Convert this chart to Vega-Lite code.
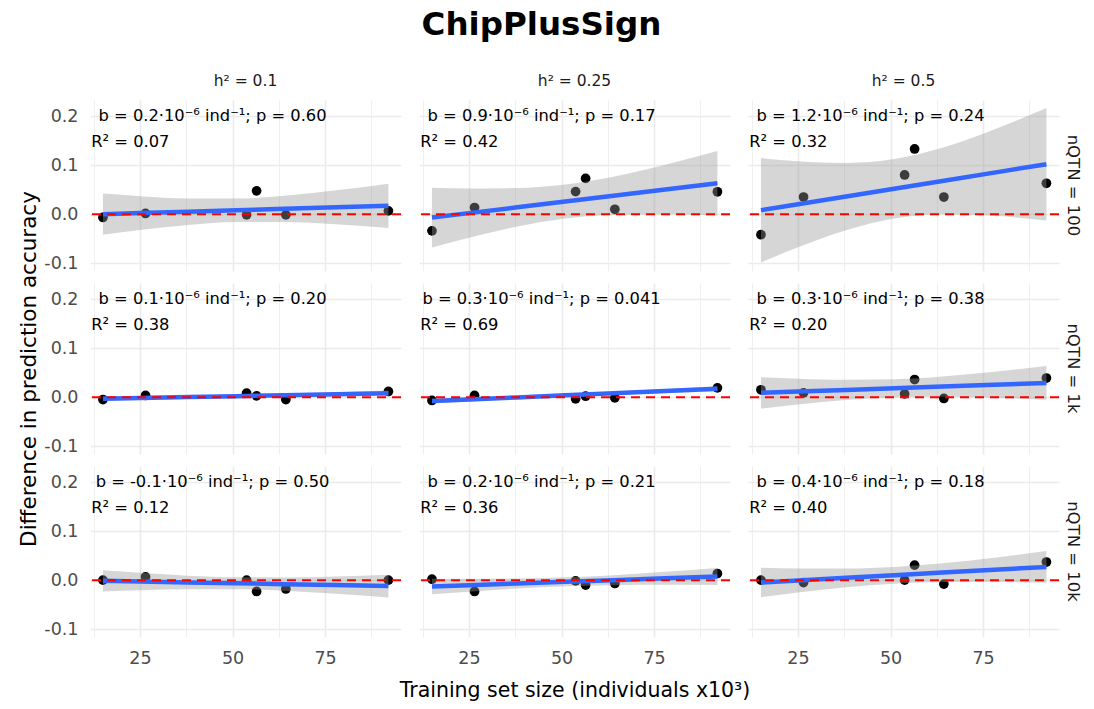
{
  "$schema": "https://vega.github.io/schema/vega-lite/v6.json",
  "padding": {"left": 18, "top": 9, "right": 2, "bottom": 2},
  "background": "white",
  "title": {"text": "ChipPlusSign", "fontSize": 32.5, "fontWeight": "bold", "font": "DejaVu Sans", "color": "#000000", "anchor": "middle", "offset": 32, "dx": -8},
  "data": {"values": [
    {"h":"h² = 0.1","q":"nQTN = 100","k":"p","x":15,"y":-0.0068},
    {"h":"h² = 0.1","q":"nQTN = 100","k":"p","x":26.5,"y":0.0014},
    {"h":"h² = 0.1","q":"nQTN = 100","k":"p","x":53.8,"y":-0.0014},
    {"h":"h² = 0.1","q":"nQTN = 100","k":"p","x":56.5,"y":0.0476},
    {"h":"h² = 0.1","q":"nQTN = 100","k":"p","x":64.4,"y":-0.0014},
    {"h":"h² = 0.1","q":"nQTN = 100","k":"p","x":92.1,"y":0.0068},
    {"h":"h² = 0.25","q":"nQTN = 100","k":"p","x":15,"y":-0.034},
    {"h":"h² = 0.25","q":"nQTN = 100","k":"p","x":26.5,"y":0.0136},
    {"h":"h² = 0.25","q":"nQTN = 100","k":"p","x":53.8,"y":0.046},
    {"h":"h² = 0.25","q":"nQTN = 100","k":"p","x":56.5,"y":0.073},
    {"h":"h² = 0.25","q":"nQTN = 100","k":"p","x":64.4,"y":0.010},
    {"h":"h² = 0.25","q":"nQTN = 100","k":"p","x":92.1,"y":0.0456},
    {"h":"h² = 0.5","q":"nQTN = 100","k":"p","x":15,"y":-0.042},
    {"h":"h² = 0.5","q":"nQTN = 100","k":"p","x":26.5,"y":0.035},
    {"h":"h² = 0.5","q":"nQTN = 100","k":"p","x":53.8,"y":0.080},
    {"h":"h² = 0.5","q":"nQTN = 100","k":"p","x":56.5,"y":0.133},
    {"h":"h² = 0.5","q":"nQTN = 100","k":"p","x":64.4,"y":0.035},
    {"h":"h² = 0.5","q":"nQTN = 100","k":"p","x":92.1,"y":0.063},
    {"h":"h² = 0.1","q":"nQTN = 1k","k":"p","x":15,"y":-0.0048},
    {"h":"h² = 0.1","q":"nQTN = 1k","k":"p","x":26.5,"y":0.0034},
    {"h":"h² = 0.1","q":"nQTN = 1k","k":"p","x":53.8,"y":0.0082},
    {"h":"h² = 0.1","q":"nQTN = 1k","k":"p","x":56.5,"y":0.0027},
    {"h":"h² = 0.1","q":"nQTN = 1k","k":"p","x":64.4,"y":-0.0048},
    {"h":"h² = 0.1","q":"nQTN = 1k","k":"p","x":92.1,"y":0.0116},
    {"h":"h² = 0.25","q":"nQTN = 1k","k":"p","x":15,"y":-0.0068},
    {"h":"h² = 0.25","q":"nQTN = 1k","k":"p","x":26.5,"y":0.0034},
    {"h":"h² = 0.25","q":"nQTN = 1k","k":"p","x":53.8,"y":-0.0034},
    {"h":"h² = 0.25","q":"nQTN = 1k","k":"p","x":56.5,"y":0.002},
    {"h":"h² = 0.25","q":"nQTN = 1k","k":"p","x":64.4,"y":-0.0014},
    {"h":"h² = 0.25","q":"nQTN = 1k","k":"p","x":92.1,"y":0.019},
    {"h":"h² = 0.5","q":"nQTN = 1k","k":"p","x":15,"y":0.015},
    {"h":"h² = 0.5","q":"nQTN = 1k","k":"p","x":26.5,"y":0.0088},
    {"h":"h² = 0.5","q":"nQTN = 1k","k":"p","x":53.8,"y":0.0068},
    {"h":"h² = 0.5","q":"nQTN = 1k","k":"p","x":56.5,"y":0.036},
    {"h":"h² = 0.5","q":"nQTN = 1k","k":"p","x":64.4,"y":-0.0027},
    {"h":"h² = 0.5","q":"nQTN = 1k","k":"p","x":92.1,"y":0.039},
    {"h":"h² = 0.1","q":"nQTN = 10k","k":"p","x":15,"y":0.0},
    {"h":"h² = 0.1","q":"nQTN = 10k","k":"p","x":26.5,"y":0.0068},
    {"h":"h² = 0.1","q":"nQTN = 10k","k":"p","x":53.8,"y":0.0},
    {"h":"h² = 0.1","q":"nQTN = 10k","k":"p","x":56.5,"y":-0.023},
    {"h":"h² = 0.1","q":"nQTN = 10k","k":"p","x":64.4,"y":-0.018},
    {"h":"h² = 0.1","q":"nQTN = 10k","k":"p","x":92.1,"y":0.0},
    {"h":"h² = 0.25","q":"nQTN = 10k","k":"p","x":15,"y":0.002},
    {"h":"h² = 0.25","q":"nQTN = 10k","k":"p","x":26.5,"y":-0.023},
    {"h":"h² = 0.25","q":"nQTN = 10k","k":"p","x":53.8,"y":-0.0014},
    {"h":"h² = 0.25","q":"nQTN = 10k","k":"p","x":56.5,"y":-0.010},
    {"h":"h² = 0.25","q":"nQTN = 10k","k":"p","x":64.4,"y":-0.0068},
    {"h":"h² = 0.25","q":"nQTN = 10k","k":"p","x":92.1,"y":0.0136},
    {"h":"h² = 0.5","q":"nQTN = 10k","k":"p","x":15,"y":0.0},
    {"h":"h² = 0.5","q":"nQTN = 10k","k":"p","x":26.5,"y":-0.0048},
    {"h":"h² = 0.5","q":"nQTN = 10k","k":"p","x":53.8,"y":0.0},
    {"h":"h² = 0.5","q":"nQTN = 10k","k":"p","x":56.5,"y":0.0306},
    {"h":"h² = 0.5","q":"nQTN = 10k","k":"p","x":64.4,"y":-0.008},
    {"h":"h² = 0.5","q":"nQTN = 10k","k":"p","x":92.1,"y":0.037},

    {"h":"h² = 0.1","q":"nQTN = 100","k":"f","x":15,"y":0.0,"lo":-0.042,"hi":0.042},
    {"h":"h² = 0.1","q":"nQTN = 100","k":"f","x":25,"y":0.0022,"lo":-0.0324,"hi":0.0368},
    {"h":"h² = 0.1","q":"nQTN = 100","k":"f","x":38,"y":0.0051,"lo":-0.0219,"hi":0.0321},
    {"h":"h² = 0.1","q":"nQTN = 100","k":"f","x":51,"y":0.0079,"lo":-0.0160,"hi":0.0318},
    {"h":"h² = 0.1","q":"nQTN = 100","k":"f","x":64,"y":0.0108,"lo":-0.0159,"hi":0.0375},
    {"h":"h² = 0.1","q":"nQTN = 100","k":"f","x":78,"y":0.0139,"lo":-0.0208,"hi":0.0486},
    {"h":"h² = 0.1","q":"nQTN = 100","k":"f","x":92.1,"y":0.017,"lo":-0.0283,"hi":0.0623},
    {"h":"h² = 0.25","q":"nQTN = 100","k":"f","x":15,"y":-0.007,"lo":-0.068,"hi":0.054},
    {"h":"h² = 0.25","q":"nQTN = 100","k":"f","x":25,"y":0.0021,"lo":-0.0482,"hi":0.0524},
    {"h":"h² = 0.25","q":"nQTN = 100","k":"f","x":38,"y":0.0139,"lo":-0.0254,"hi":0.0532},
    {"h":"h² = 0.25","q":"nQTN = 100","k":"f","x":51,"y":0.0257,"lo":-0.009,"hi":0.0604},
    {"h":"h² = 0.25","q":"nQTN = 100","k":"f","x":64,"y":0.0375,"lo":-0.0013,"hi":0.0763},
    {"h":"h² = 0.25","q":"nQTN = 100","k":"f","x":78,"y":0.0502,"lo":-0.0002,"hi":0.1006},
    {"h":"h² = 0.25","q":"nQTN = 100","k":"f","x":92.1,"y":0.063,"lo":-0.0028,"hi":0.1288},
    {"h":"h² = 0.5","q":"nQTN = 100","k":"f","x":15,"y":0.008,"lo":-0.0985,"hi":0.1145},
    {"h":"h² = 0.5","q":"nQTN = 100","k":"f","x":25,"y":0.0202,"lo":-0.0676,"hi":0.108},
    {"h":"h² = 0.5","q":"nQTN = 100","k":"f","x":38,"y":0.036,"lo":-0.0326,"hi":0.1046},
    {"h":"h² = 0.5","q":"nQTN = 100","k":"f","x":51,"y":0.0519,"lo":-0.0087,"hi":0.1125},
    {"h":"h² = 0.5","q":"nQTN = 100","k":"f","x":64,"y":0.0677,"lo":0.0,"hi":0.1354},
    {"h":"h² = 0.5","q":"nQTN = 100","k":"f","x":78,"y":0.0848,"lo":-0.0033,"hi":0.1729},
    {"h":"h² = 0.5","q":"nQTN = 100","k":"f","x":92.1,"y":0.102,"lo":-0.0129,"hi":0.2169},
    {"h":"h² = 0.1","q":"nQTN = 1k","k":"f","x":15,"y":-0.0034,"lo":-0.0084,"hi":0.0016},
    {"h":"h² = 0.1","q":"nQTN = 1k","k":"f","x":25,"y":-0.0019,"lo":-0.006,"hi":0.0022},
    {"h":"h² = 0.1","q":"nQTN = 1k","k":"f","x":38,"y":0.0001,"lo":-0.0031,"hi":0.0033},
    {"h":"h² = 0.1","q":"nQTN = 1k","k":"f","x":51,"y":0.0020,"lo":-0.0008,"hi":0.0048},
    {"h":"h² = 0.1","q":"nQTN = 1k","k":"f","x":64,"y":0.0040,"lo":0.0008,"hi":0.0072},
    {"h":"h² = 0.1","q":"nQTN = 1k","k":"f","x":78,"y":0.0061,"lo":0.002,"hi":0.0102},
    {"h":"h² = 0.1","q":"nQTN = 1k","k":"f","x":92.1,"y":0.0082,"lo":0.0028,"hi":0.0136},
    {"h":"h² = 0.25","q":"nQTN = 1k","k":"f","x":15,"y":-0.008,"lo":-0.013,"hi":-0.003},
    {"h":"h² = 0.25","q":"nQTN = 1k","k":"f","x":25,"y":-0.0048,"lo":-0.0089,"hi":-0.0007},
    {"h":"h² = 0.25","q":"nQTN = 1k","k":"f","x":38,"y":-0.0005,"lo":-0.0037,"hi":0.0027},
    {"h":"h² = 0.25","q":"nQTN = 1k","k":"f","x":51,"y":0.0037,"lo":0.0009,"hi":0.0065},
    {"h":"h² = 0.25","q":"nQTN = 1k","k":"f","x":64,"y":0.0079,"lo":0.0047,"hi":0.0111},
    {"h":"h² = 0.25","q":"nQTN = 1k","k":"f","x":78,"y":0.0124,"lo":0.0083,"hi":0.0165},
    {"h":"h² = 0.25","q":"nQTN = 1k","k":"f","x":92.1,"y":0.017,"lo":0.0116,"hi":0.0224},
    {"h":"h² = 0.5","q":"nQTN = 1k","k":"f","x":15,"y":0.0088,"lo":-0.0232,"hi":0.0408},
    {"h":"h² = 0.5","q":"nQTN = 1k","k":"f","x":25,"y":0.0114,"lo":-0.015,"hi":0.0378},
    {"h":"h² = 0.5","q":"nQTN = 1k","k":"f","x":38,"y":0.0148,"lo":-0.0058,"hi":0.0354},
    {"h":"h² = 0.5","q":"nQTN = 1k","k":"f","x":51,"y":0.0182,"lo":0.0,"hi":0.0364},
    {"h":"h² = 0.5","q":"nQTN = 1k","k":"f","x":64,"y":0.0216,"lo":0.0012,"hi":0.042},
    {"h":"h² = 0.5","q":"nQTN = 1k","k":"f","x":78,"y":0.0253,"lo":-0.0012,"hi":0.0518},
    {"h":"h² = 0.5","q":"nQTN = 1k","k":"f","x":92.1,"y":0.029,"lo":-0.0055,"hi":0.0635},
    {"h":"h² = 0.1","q":"nQTN = 10k","k":"f","x":15,"y":-0.0014,"lo":-0.0229,"hi":0.0201},
    {"h":"h² = 0.1","q":"nQTN = 10k","k":"f","x":25,"y":-0.0028,"lo":-0.0205,"hi":0.0149},
    {"h":"h² = 0.1","q":"nQTN = 10k","k":"f","x":38,"y":-0.0046,"lo":-0.0184,"hi":0.0092},
    {"h":"h² = 0.1","q":"nQTN = 10k","k":"f","x":51,"y":-0.0063,"lo":-0.0185,"hi":0.0059},
    {"h":"h² = 0.1","q":"nQTN = 10k","k":"f","x":64,"y":-0.0081,"lo":-0.0218,"hi":0.0056},
    {"h":"h² = 0.1","q":"nQTN = 10k","k":"f","x":78,"y":-0.0101,"lo":-0.0279,"hi":0.0077},
    {"h":"h² = 0.1","q":"nQTN = 10k","k":"f","x":92.1,"y":-0.012,"lo":-0.0352,"hi":0.0112},
    {"h":"h² = 0.25","q":"nQTN = 10k","k":"f","x":15,"y":-0.013,"lo":-0.029,"hi":0.003},
    {"h":"h² = 0.25","q":"nQTN = 10k","k":"f","x":25,"y":-0.0103,"lo":-0.0235,"hi":0.0029},
    {"h":"h² = 0.25","q":"nQTN = 10k","k":"f","x":38,"y":-0.0069,"lo":-0.0172,"hi":0.0034},
    {"h":"h² = 0.25","q":"nQTN = 10k","k":"f","x":51,"y":-0.0034,"lo":-0.0125,"hi":0.0057},
    {"h":"h² = 0.25","q":"nQTN = 10k","k":"f","x":64,"y":0.0,"lo":-0.0102,"hi":0.0102},
    {"h":"h² = 0.25","q":"nQTN = 10k","k":"f","x":78,"y":0.0038,"lo":-0.0094,"hi":0.017},
    {"h":"h² = 0.25","q":"nQTN = 10k","k":"f","x":92.1,"y":0.0075,"lo":-0.0098,"hi":0.0248},
    {"h":"h² = 0.5","q":"nQTN = 10k","k":"f","x":15,"y":-0.0048,"lo":-0.0348,"hi":0.0252},
    {"h":"h² = 0.5","q":"nQTN = 10k","k":"f","x":25,"y":-0.0007,"lo":-0.0254,"hi":0.024},
    {"h":"h² = 0.5","q":"nQTN = 10k","k":"f","x":38,"y":0.0047,"lo":-0.0146,"hi":0.024},
    {"h":"h² = 0.5","q":"nQTN = 10k","k":"f","x":51,"y":0.0100,"lo":-0.0071,"hi":0.0271},
    {"h":"h² = 0.5","q":"nQTN = 10k","k":"f","x":64,"y":0.0154,"lo":-0.0037,"hi":0.0345},
    {"h":"h² = 0.5","q":"nQTN = 10k","k":"f","x":78,"y":0.0212,"lo":-0.0036,"hi":0.046},
    {"h":"h² = 0.5","q":"nQTN = 10k","k":"f","x":92.1,"y":0.027,"lo":-0.0054,"hi":0.0594},

    {"h":"h² = 0.1","q":"nQTN = 100","k":"b","x":44.6,"y":0.2,"t":"b = 0.2·10⁻⁶ ind⁻¹; p = 0.60"},
    {"h":"h² = 0.25","q":"nQTN = 100","k":"b","x":44.6,"y":0.2,"t":"b = 0.9·10⁻⁶ ind⁻¹; p = 0.17"},
    {"h":"h² = 0.5","q":"nQTN = 100","k":"b","x":44.6,"y":0.2,"t":"b = 1.2·10⁻⁶ ind⁻¹; p = 0.24"},
    {"h":"h² = 0.1","q":"nQTN = 1k","k":"b","x":44.6,"y":0.2,"t":"b = 0.1·10⁻⁶ ind⁻¹; p = 0.20"},
    {"h":"h² = 0.25","q":"nQTN = 1k","k":"b","x":44.6,"y":0.2,"t":"b = 0.3·10⁻⁶ ind⁻¹; p = 0.041"},
    {"h":"h² = 0.5","q":"nQTN = 1k","k":"b","x":44.6,"y":0.2,"t":"b = 0.3·10⁻⁶ ind⁻¹; p = 0.38"},
    {"h":"h² = 0.1","q":"nQTN = 10k","k":"b","x":44.6,"y":0.2,"t":"b = -0.1·10⁻⁶ ind⁻¹; p = 0.50"},
    {"h":"h² = 0.25","q":"nQTN = 10k","k":"b","x":44.6,"y":0.2,"t":"b = 0.2·10⁻⁶ ind⁻¹; p = 0.21"},
    {"h":"h² = 0.5","q":"nQTN = 10k","k":"b","x":44.6,"y":0.2,"t":"b = 0.4·10⁻⁶ ind⁻¹; p = 0.18"},
    {"h":"h² = 0.1","q":"nQTN = 100","k":"r","x":11.85,"y":0.148,"t":"R² = 0.07"},
    {"h":"h² = 0.25","q":"nQTN = 100","k":"r","x":11.85,"y":0.148,"t":"R² = 0.42"},
    {"h":"h² = 0.5","q":"nQTN = 100","k":"r","x":11.85,"y":0.148,"t":"R² = 0.32"},
    {"h":"h² = 0.1","q":"nQTN = 1k","k":"r","x":11.85,"y":0.148,"t":"R² = 0.38"},
    {"h":"h² = 0.25","q":"nQTN = 1k","k":"r","x":11.85,"y":0.148,"t":"R² = 0.69"},
    {"h":"h² = 0.5","q":"nQTN = 1k","k":"r","x":11.85,"y":0.148,"t":"R² = 0.20"},
    {"h":"h² = 0.1","q":"nQTN = 10k","k":"r","x":11.85,"y":0.148,"t":"R² = 0.12"},
    {"h":"h² = 0.25","q":"nQTN = 10k","k":"r","x":11.85,"y":0.148,"t":"R² = 0.36"},
    {"h":"h² = 0.5","q":"nQTN = 10k","k":"r","x":11.85,"y":0.148,"t":"R² = 0.40"}
  ]},
  "facet": {
    "row": {"field": "q", "type": "nominal", "sort": ["nQTN = 100", "nQTN = 1k", "nQTN = 10k"],
      "header": {"title": "Difference in prediction accuracy", "titleOrient": "left", "titleFontSize": 21.5, "titleFontWeight": "normal", "titleColor": "#000000", "titleFont": "DejaVu Sans", "titlePadding": -7,
        "labelOrient": "right", "labelAngle": 90, "labelFontSize": 16.5, "labelColor": "#1a1a1a", "labelPadding": 4, "labelFont": "DejaVu Sans"}},
    "column": {"field": "h", "type": "nominal", "sort": ["h² = 0.1", "h² = 0.25", "h² = 0.5"],
      "header": {"title": "Training set size (individuals x10³)", "titleOrient": "bottom", "titleFontSize": 20.5, "titleFontWeight": "normal", "titleColor": "#000000", "titleFont": "DejaVu Sans", "titlePadding": 4,
        "labelOrient": "top", "labelFontSize": 15.5, "labelColor": "#1a1a1a", "labelPadding": 11, "labelFont": "DejaVu Sans"}}
  },
  "spacing": {"row": 12, "column": 16},
  "spec": {
    "width": 311,
    "height": 171,
    "layer": [
      {
        "transform": [{"filter": "datum.k == 'p'"}],
        "mark": {"type": "point", "filled": true, "color": "#000000", "opacity": 1, "size": 95},
        "encoding": {
          "x": {"field": "x", "type": "quantitative", "title": null,
            "scale": {"domain": [11.5, 95.5], "nice": false, "zero": false},
            "axis": {"values": [12.5, 25, 37.5, 50, 62.5, 75, 87.5], "labelExpr": "datum.value % 25 == 0 ? datum.label : ''",
              "gridWidth": {"condition": {"test": "datum.value % 25 == 0", "value": 1.6}, "value": 0.8}}},
          "y": {"field": "y", "type": "quantitative", "title": null,
            "scale": {"domain": [-0.116, 0.233], "nice": false, "zero": false},
            "axis": {"values": [-0.1, -0.05, 0, 0.05, 0.1, 0.15, 0.2],
              "labelExpr": "abs(datum.value * 10 - round(datum.value * 10)) < 0.001 ? replace(format(datum.value, '.1f'), '−', '-') : ''",
              "gridWidth": {"condition": {"test": "abs(datum.value * 10 - round(datum.value * 10)) < 0.001", "value": 1.6}, "value": 0.8}}}
        }
      },
      {
        "transform": [{"filter": "datum.k == 'f'"}],
        "mark": {"type": "area", "color": "#999999", "opacity": 0.4, "interpolate": "monotone"},
        "encoding": {
          "x": {"field": "x", "type": "quantitative", "title": null, "scale": {"domain": [11.5, 95.5], "nice": false, "zero": false}},
          "y": {"field": "lo", "type": "quantitative", "title": null, "scale": {"domain": [-0.116, 0.233], "nice": false, "zero": false}},
          "y2": {"field": "hi"}
        }
      },
      {
        "transform": [{"filter": "datum.k == 'f'"}],
        "mark": {"type": "line", "color": "#3366FF", "strokeWidth": 4.5},
        "encoding": {
          "x": {"field": "x", "type": "quantitative", "title": null, "scale": {"domain": [11.5, 95.5], "nice": false, "zero": false}},
          "y": {"field": "y", "type": "quantitative", "title": null, "scale": {"domain": [-0.116, 0.233], "nice": false, "zero": false}}
        }
      },
      {
        "transform": [{"filter": "datum.k == 'f' && datum.x == 15"}],
        "mark": {"type": "rule", "color": "#FF0000", "strokeWidth": 2, "strokeDash": [9, 6]},
        "encoding": {
          "y": {"datum": 0, "type": "quantitative", "title": null, "scale": {"domain": [-0.116, 0.233], "nice": false, "zero": false}}
        }
      },
      {
        "transform": [{"filter": "datum.k == 'b'"}],
        "mark": {"type": "text", "align": "center", "baseline": "middle", "fontSize": 16.3, "color": "#000000", "font": "DejaVu Sans"},
        "encoding": {
          "x": {"field": "x", "type": "quantitative", "title": null, "scale": {"domain": [11.5, 95.5], "nice": false, "zero": false}},
          "y": {"field": "y", "type": "quantitative", "title": null, "scale": {"domain": [-0.116, 0.233], "nice": false, "zero": false}},
          "text": {"field": "t"}
        }
      },
      {
        "transform": [{"filter": "datum.k == 'r'"}],
        "mark": {"type": "text", "align": "left", "baseline": "middle", "fontSize": 16.3, "color": "#000000", "font": "DejaVu Sans"},
        "encoding": {
          "x": {"field": "x", "type": "quantitative", "title": null, "scale": {"domain": [11.5, 95.5], "nice": false, "zero": false}},
          "y": {"field": "y", "type": "quantitative", "title": null, "scale": {"domain": [-0.116, 0.233], "nice": false, "zero": false}},
          "text": {"field": "t"}
        }
      }
    ]
  },
  "config": {
    "font": "DejaVu Sans",
    "view": {"stroke": null},
    "axis": {
      "ticks": false, "tickSize": 0, "domain": false,
      "gridColor": "#ebebeb",
      "labelFontSize": 17.5, "labelColor": "#4d4d4d", "labelFont": "DejaVu Sans",
      "labelOverlap": false, "labelFlush": false
    },
    "axisX": {"labelPadding": 12},
    "axisY": {"labelPadding": 11}
  }
}
